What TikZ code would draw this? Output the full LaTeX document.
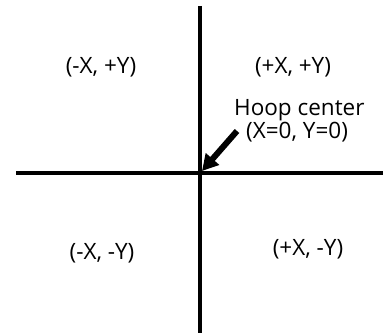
\documentclass[tikz,border=0pt]{standalone}
\usepackage{fontspec}
\setmainfont{Open Sans}
\usetikzlibrary{arrows.meta, positioning}

\begin{document}
\begin{tikzpicture}[
    x=1pt, y=1pt,
    font=\fontsize{22.5}{26}\selectfont,
    axis/.style={line width=3.6pt},
    quad/.style={inner sep=1pt, align=center},
    pointer/.style={-{Triangle[length=16pt, width=17pt]}, line width=6pt},
]
\useasboundingbox (0,0) rectangle (383,333);

% Axes
\coordinate (ytop) at (200,327);
\coordinate (ybot) at (200,0);
\coordinate (xleft) at (16,160);
\coordinate (xright) at (383,160);
\coordinate (origin) at (200,160);
\draw[axis] (ytop) -- (ybot);
\draw[axis] (xleft) -- (xright);

% Quadrant labels
\node[quad] (q2) at (101,266) {(-X, +Y)};
\node[quad] (q1) at (293,266) {(+X, +Y)};
\node[quad] (q3) at (102,80) {(-X, -Y)};
\node[quad] (q4) at (308,84) {(+X, -Y)};

% Origin note
\node[quad, align=left, anchor=west] (hoop) at (233,212) {Hoop center\\[-3pt]\hspace*{12pt}(X=0, Y=0)};
\coordinate (tail) at (237,202);
\coordinate (tip) at (202,162);
\draw[pointer] (tail) -- (tip);

\end{tikzpicture}
\end{document}
